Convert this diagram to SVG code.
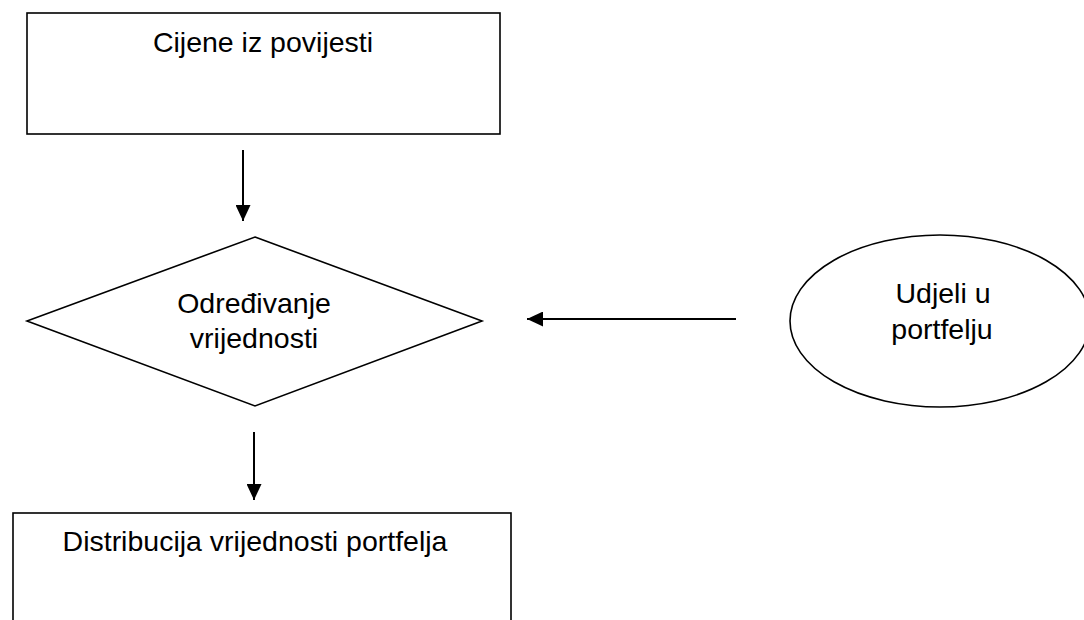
<svg xmlns="http://www.w3.org/2000/svg" width="1084" height="620" viewBox="0 0 1084 620">
  <style>
    .shape { fill: #ffffff; stroke: #000000; stroke-width: 1.6; }
    .lbl { font-family: "Liberation Sans", Arial, sans-serif; font-size: 28.5px; fill: #000000; text-anchor: middle; }
    .conn { stroke: #000000; stroke-width: 2; fill: none; }
  </style>
  <defs>
    <marker id="arrow" viewBox="0 0 16 15" refX="16" refY="7.5" markerWidth="16" markerHeight="15" markerUnits="userSpaceOnUse" orient="auto">
      <path d="M0,0 L16,7.5 L0,15 Z" fill="#000000"/>
    </marker>
  </defs>
  <rect width="1084" height="620" fill="#ffffff"/>

  <g id="node-cijene">
    <rect class="shape" x="27" y="13" width="473" height="121"/>
    <text class="lbl" x="263" y="52">Cijene iz povijesti</text>
  </g>

  <g id="node-odredivanje">
    <polygon class="shape" points="255,237 482,321 255,406 27,321"/>
    <text class="lbl" x="254" y="313">Određivanje</text>
    <text class="lbl" x="254" y="348">vrijednosti</text>
  </g>

  <g id="node-udjeli">
    <ellipse class="shape" cx="940" cy="321" rx="150" ry="86"/>
    <text class="lbl" x="943" y="303">Udjeli u</text>
    <text class="lbl" x="942" y="339">portfelju</text>
  </g>

  <g id="node-distribucija">
    <rect class="shape" x="13" y="513" width="498" height="140"/>
    <text class="lbl" x="255" y="551">Distribucija vrijednosti portfelja</text>
  </g>

  <g id="connectors">
    <line class="conn" x1="243" y1="150" x2="243" y2="221" marker-end="url(#arrow)"/>
    <line class="conn" x1="736" y1="319" x2="527" y2="319" marker-end="url(#arrow)"/>
    <line class="conn" x1="254" y1="432" x2="254" y2="500" marker-end="url(#arrow)"/>
  </g>
</svg>
